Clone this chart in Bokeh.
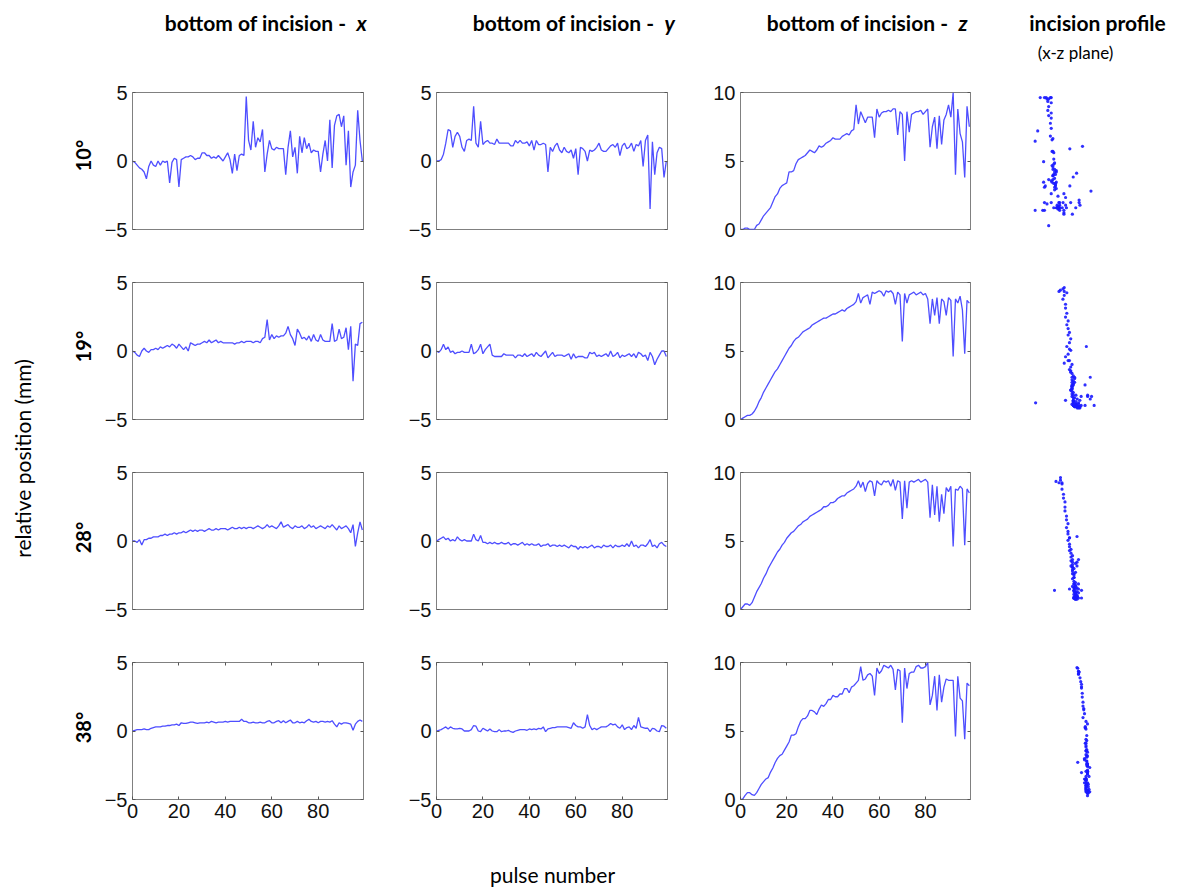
from bokeh.plotting import figure
from bokeh.layouts import row, column
from bokeh.models import Range1d, FixedTicker, LinearAxis
from bokeh.core.properties import value
from bokeh.embed import file_html
from bokeh.resources import INLINE
from math import pi

# ---------------- data ----------------
pulse = list(range(100))
angles = ["10°", "19°", "28°", "38°"]
col_titles = ["bottom of incision - ", "bottom of incision - ", "bottom of incision - "]
col_letters = ["x", "y", "z"]
x_ticks = [0, 20, 40, 60, 80]
xy_ticks = [-5, 0, 5]
z_ticks = [0, 5, 10]

x_10 = [0.0, -0.1, -0.3, -0.5, -0.6, -0.8, -1.3, -0.4, 0.0, -0.3,
        -0.4, 0.0, -0.3, 0.0, -0.1, 0.0, -1.6, -0.1, 0.2, 0.1,
        -1.9, 0.1, 0.2, 0.3, 0.3, 0.4, 0.3, 0.1, 0.2, 0.2,
        0.6, 0.6, 0.4, 0.4, 0.2, 0.3, 0.2, 0.4, 0.2, 0.0,
        0.3, 0.6, 0.1, -0.9, 0.5, -0.7, 0.4, 0.5, 0.4, 4.7,
        1.5, 0.8, 2.9, 1.0, 1.7, 1.4, 2.3, -0.8, 0.5, 1.5,
        0.9, 0.8, 1.0, 0.9, 0.9, 0.9, -1.0, 1.0, 2.2, 0.3,
        1.0, -0.9, 1.8, 0.6, 1.7, 0.9, 1.3, 0.6, 0.8, 0.7,
        0.7, -0.8, 0.5, 1.5, 0.0, 3.0, -0.5, 2.6, 3.3, 3.4,
        2.5, 3.3, -0.3, 2.2, -1.9, -0.8, -0.3, 3.7, 1.5, 0.0]
y_10 = [0.0, 0.0, 0.1, 0.5, 1.3, 2.3, 2.2, 1.0, 1.8, 2.1,
        1.8, 1.0, 0.7, 1.5, 1.6, 1.5, 4.0, 1.3, 1.0, 2.9,
        1.2, 1.4, 1.5, 1.3, 1.3, 1.2, 1.6, 1.3, 1.3, 1.3,
        1.3, 1.3, 1.1, 1.1, 1.5, 1.3, 1.5, 1.3, 1.3, 1.4,
        1.1, 1.5, 0.8, 1.5, 1.2, 1.2, 1.3, 1.2, -0.8, 1.0,
        0.7, 1.1, 1.3, 0.8, 0.6, 1.0, 0.7, 0.6, 0.8, 0.2,
        0.9, -1.0, 1.0, 0.9, 0.7, 0.0, 0.8, 0.7, 0.8, 1.0,
        1.3, 0.8, 0.7, 0.7, 0.9, 1.1, 1.2, 1.0, 1.3, 0.4,
        1.1, 1.3, 0.9, 1.0, 1.3, 0.7, 1.2, 1.1, 1.5, -0.4,
        1.5, 1.9, -3.5, 1.4, -1.0, 0.6, 1.0, 0.9, -1.2, 0.0]
z_10 = [0.0, 0.0, 0.1, 0.1, 0.0, 0.0, 0.0, 0.3, 0.4, 0.7,
        1.0, 1.2, 1.4, 1.6, 2.0, 2.4, 2.6, 3.0, 3.2, 3.3,
        3.4, 4.2, 4.2, 4.3, 4.8, 5.1, 5.2, 5.3, 5.4, 5.6,
        5.8, 5.7, 5.6, 5.8, 6.1, 6.0, 6.1, 6.3, 6.4, 6.5,
        6.7, 6.6, 6.6, 6.6, 6.8, 6.9, 7.0, 6.9, 7.2, 7.3,
        9.1, 7.7, 8.6, 8.2, 7.8, 8.2, 8.2, 8.2, 6.7, 8.8,
        8.2, 8.5, 8.6, 8.6, 8.7, 8.6, 8.8, 8.8, 6.9, 8.6,
        8.4, 5.0, 8.6, 7.1, 8.4, 8.5, 8.6, 8.6, 8.7, 8.4,
        8.6, 8.8, 6.0, 7.5, 8.2, 5.9, 8.3, 6.2, 8.0, 8.4,
        9.1, 8.2, 10.0, 4.0, 8.8, 7.0, 6.4, 3.8, 9.0, 7.5]

x_19 = [0.0, -0.1, -0.3, -0.4, 0.0, 0.2, 0.0, -0.1, 0.1, 0.1,
        0.2, 0.1, 0.3, 0.2, 0.3, 0.4, 0.3, 0.5, 0.4, 0.2,
        0.5, 0.3, 0.1, 0.3, 0.0, 0.6, 0.5, 0.4, 0.5, 0.5,
        0.6, 0.7, 0.6, 0.8, 0.6, 0.7, 0.8, 0.6, 0.7, 0.6,
        0.6, 0.6, 0.6, 0.6, 0.5, 0.6, 0.6, 0.7, 0.6, 0.7,
        0.7, 0.7, 0.6, 0.7, 0.7, 0.6, 0.9, 1.0, 2.3, 0.8,
        1.2, 0.9, 1.1, 1.0, 1.1, 1.1, 1.3, 1.8, 1.2, 0.9,
        0.4, 1.6, 1.3, 0.9, 1.0, 0.8, 1.1, 0.7, 1.2, 0.8,
        0.7, 1.2, 0.8, 0.7, 0.7, 0.7, 2.0, 0.7, 0.8, 1.6,
        0.9, 1.0, 1.7, 0.1, 1.8, -2.2, 0.5, 0.4, 2.0, 2.1]
y_19 = [0.0, -0.1, 0.1, 0.5, 0.1, 0.3, -0.1, 0.0, -0.2, -0.1,
        -0.1, 0.0, -0.1, -0.1, -0.1, 0.5, -0.2, -0.1, 0.1, 0.5,
        -0.2, 0.1, 0.3, 0.5, -0.3, -0.4, -0.4, -0.4, -0.4, -0.2,
        -0.3, -0.3, -0.3, -0.3, -0.5, -0.3, -0.3, -0.4, -0.2, -0.4,
        -0.3, -0.2, -0.4, -0.1, -0.3, -0.4, -0.2, 0.0, -0.5, -0.3,
        -0.1, -0.4, -0.3, -0.3, -0.3, -0.4, -0.3, -0.2, -0.6, -0.2,
        -0.5, -0.4, -0.4, -0.4, -0.5, -0.5, -0.1, -0.2, -0.1, -0.4,
        -0.3, -0.4, -0.3, -0.2, -0.4, 0.0, -0.4, -0.3, -0.1, -0.5,
        -0.3, -0.4, -0.3, -0.2, -0.4, -0.2, -0.5, -0.1, -0.2, -0.4,
        -0.3, -0.7, -0.1, -0.4, -1.0, -0.6, -0.3, 0.0, 0.0, -0.4]
z_19 = [0.0, 0.1, 0.2, 0.3, 0.3, 0.4, 0.6, 0.9, 1.3, 1.6,
        2.0, 2.3, 2.6, 2.9, 3.2, 3.5, 3.7, 4.0, 4.3, 4.6,
        4.9, 5.2, 5.4, 5.7, 5.9, 6.0, 6.2, 6.4, 6.5, 6.6,
        6.7, 6.9, 7.0, 7.1, 7.2, 7.3, 7.4, 7.4, 7.5, 7.6,
        7.7, 7.7, 7.8, 7.9, 8.0, 7.9, 8.1, 8.2, 8.3, 8.4,
        8.6, 9.2, 8.5, 8.9, 9.0, 9.1, 8.4, 9.3, 9.2, 9.3,
        9.4, 9.3, 9.0, 9.4, 9.3, 9.4, 9.2, 8.4, 9.3, 9.1,
        5.7, 9.2, 8.5, 9.1, 9.2, 9.3, 9.1, 9.2, 9.3, 9.1,
        9.2, 8.8, 7.0, 8.8, 7.6, 8.9, 7.0, 8.8, 8.6, 7.6,
        8.9, 8.7, 4.6, 8.8, 8.5, 9.0, 8.0, 4.8, 8.7, 8.5]

x_28 = [0.0, 0.0, -0.1, 0.1, -0.3, 0.1, 0.1, 0.2, 0.2, 0.3,
        0.3, 0.3, 0.4, 0.4, 0.5, 0.4, 0.5, 0.5, 0.6, 0.5,
        0.6, 0.6, 0.7, 0.6, 0.7, 0.8, 0.7, 0.8, 0.7, 0.8,
        0.8, 0.7, 0.8, 0.9, 0.8, 0.8, 0.9, 0.8, 0.9, 0.9,
        0.9, 0.8, 0.9, 1.0, 0.9, 0.9, 1.0, 0.9, 1.0, 0.9,
        1.0, 1.0, 0.9, 1.0, 1.1, 1.0, 0.9, 1.0, 1.2, 1.0,
        1.1, 1.0, 0.9, 1.1, 1.4, 1.0, 1.1, 1.2, 1.0, 0.9,
        1.1, 1.0, 1.0, 1.1, 0.9, 1.0, 1.2, 1.0, 1.1, 0.9,
        1.0, 1.1, 1.0, 0.9, 1.1, 1.0, 1.2, 1.0, 0.8, 1.1,
        0.9, 1.0, 1.1, 0.9, 0.6, 1.2, -0.4, 0.6, 1.4, 0.8]
y_28 = [0.0, 0.1, 0.2, 0.3, 0.1, 0.2, 0.0, 0.1, 0.0, 0.3,
        0.1, 0.0, 0.1, 0.0, 0.0, 0.0, 0.5, 0.1, 0.0, 0.4,
        -0.1, -0.1, -0.2, -0.1, -0.2, -0.1, -0.2, -0.2, -0.1, -0.2,
        -0.2, -0.1, -0.3, -0.2, -0.2, -0.3, -0.2, -0.1, -0.3, -0.2,
        -0.3, -0.2, -0.3, -0.3, -0.2, -0.4, -0.3, -0.3, -0.2, -0.4,
        -0.3, -0.3, -0.4, -0.3, -0.4, -0.3, -0.4, -0.5, -0.3, -0.4,
        -0.4, -0.6, -0.4, -0.5, -0.4, -0.5, -0.4, -0.3, -0.5, -0.4,
        -0.4, -0.5, -0.3, -0.4, -0.4, -0.3, -0.5, -0.3, -0.4, -0.4,
        -0.3, -0.4, -0.2, -0.4, 0.0, -0.4, -0.3, -0.5, -0.3, -0.3,
        -0.4, -0.2, 0.1, -0.4, -0.3, -0.5, -0.2, -0.1, -0.3, -0.4]
z_28 = [0.0, 0.2, 0.4, 0.4, 0.3, 0.5, 0.9, 1.3, 1.6, 1.9,
        2.3, 2.6, 3.0, 3.3, 3.6, 3.9, 4.2, 4.4, 4.7, 4.9,
        5.2, 5.4, 5.6, 5.7, 5.9, 6.1, 6.2, 6.4, 6.5, 6.6,
        6.8, 6.9, 7.0, 7.1, 7.2, 7.3, 7.5, 7.5, 7.6, 7.8,
        7.8, 7.9, 8.1, 8.2, 8.3, 8.3, 8.5, 8.6, 8.7, 8.8,
        9.0, 9.4, 8.9, 9.3, 8.6, 9.2, 9.4, 9.3, 8.3, 9.4,
        9.2, 9.1, 9.4, 9.3, 9.4, 9.0, 9.5, 8.7, 9.4, 9.3,
        6.6, 9.4, 7.4, 9.3, 9.4, 9.3, 9.4, 9.5, 9.3, 9.4,
        9.5, 9.3, 6.7, 9.1, 6.9, 9.0, 6.4, 8.4, 7.0, 8.9,
        8.6, 9.0, 4.6, 8.8, 8.7, 9.0, 8.8, 4.7, 8.8, 8.5]

x_38 = [0.0, 0.05, 0.1, 0.1, 0.1, 0.15, 0.1, 0.1, 0.2, 0.25,
        0.3, 0.3, 0.3, 0.35, 0.35, 0.4, 0.4, 0.45, 0.45, 0.5,
        0.4, 0.6, 0.55, 0.55, 0.6, 0.65, 0.65, 0.6, 0.55, 0.6,
        0.6, 0.6, 0.65, 0.6, 0.7, 0.65, 0.6, 0.65, 0.65, 0.65,
        0.7, 0.65, 0.7, 0.7, 0.7, 0.7, 0.7, 0.85, 0.7, 0.7,
        0.6, 0.6, 0.65, 0.6, 0.6, 0.65, 0.6, 0.6, 0.7, 0.75,
        0.6, 0.6, 0.7, 0.75, 0.6, 0.75, 0.6, 0.7, 0.8, 0.6,
        0.6, 0.7, 0.6, 0.65, 0.6, 0.75, 0.85, 0.7, 0.65, 0.7,
        0.6, 0.7, 0.7, 0.65, 0.7, 0.65, 0.75, 0.5, 0.3, 0.6,
        0.5, 0.6, 0.6, 0.55, 0.5, 0.05, 0.5, 0.7, 0.8, 0.7]
y_38 = [0.0, 0.05, 0.1, 0.2, 0.3, 0.15, 0.3, 0.2, 0.15, 0.15,
        0.2, 0.15, 0.0, 0.0, 0.0, 0.1, 0.4, 0.35, 0.0, -0.05,
        0.2, 0.1, 0.0, 0.15, 0.0, -0.05, -0.05, 0.1, -0.05, 0.0,
        0.0, 0.05, -0.05, -0.1, 0.0, 0.05, 0.1, 0.1, 0.1, 0.05,
        0.15, 0.1, 0.15, 0.1, 0.2, 0.15, 0.3, -0.05, 0.15, 0.2,
        0.25, 0.25, 0.3, 0.3, 0.3, 0.3, 0.3, 0.25, 0.2, 0.6,
        0.4, 0.3, 0.3, 0.2, 0.3, 1.2, 0.4, 0.1, 0.2, 0.1,
        0.2, 0.3, 0.3, 0.3, 0.4, 0.55, 0.45, 0.5, 0.3, 0.2,
        0.45, 0.1, 0.25, 0.3, 0.1, 0.4, 0.2, 1.0, 0.3, 0.25,
        0.2, 0.2, -0.05, 0.2, 0.15, 0.0, -0.05, 0.4, 0.35, 0.2]
z_38 = [0.0, 0.05, 0.3, 0.5, 0.5, 0.35, 0.3, 0.5, 0.8, 1.1,
        1.3, 1.5, 1.6, 2.0, 2.3, 2.7, 3.0, 3.2, 3.3, 3.6,
        3.9, 4.2, 4.7, 4.7, 4.8, 5.3, 5.7, 5.9, 5.9, 6.1,
        6.5, 6.5, 6.4, 6.2, 6.6, 6.9, 6.8, 7.0, 7.3, 7.3,
        7.6, 7.5, 7.5, 7.7, 7.7, 8.1, 8.1, 7.8, 8.2, 8.3,
        8.5, 8.7, 9.7, 8.7, 8.8, 9.1, 9.2, 9.0, 7.6, 9.6,
        9.2, 9.4, 9.8, 9.7, 9.6, 9.8, 9.5, 8.0, 9.5, 9.4,
        5.6, 9.6, 8.1, 9.2, 9.3, 9.3, 9.7, 9.8, 9.6, 9.6,
        9.7, 10.0, 6.9, 7.6, 9.0, 6.5, 9.1, 7.1, 8.2, 8.8,
        8.7, 8.7, 8.7, 4.6, 9.0, 7.4, 7.2, 4.4, 8.5, 8.3]

series = [
    (x_10, y_10, z_10),
    (x_19, y_19, z_19),
    (x_28, y_28, z_28),
    (x_38, y_38, z_38),
]

# ---------------- style ----------------
LINE = "#3b3bff"
DOT = "#1a1aff"
FRAME = "#808080"
TICK = "#555555"
TFONT = "Liberation Sans"
LFONT = "Lato"

# per-row horizontal window of the profile panels (x in mm)
profile_xwin = [(-6.0, 16.0), (-4.9, 9.4), (-4.0, 8.4), (-5.1, 7.3)]


def cell(xs, ys, yr, yticks, col, last):
    right = 41 if col < 2 else 30
    w = 304 if col < 2 else 292
    p = figure(width=w, height=190, x_range=Range1d(0, 99.5), y_range=Range1d(*yr),
               output_backend="svg", toolbar_location=None,
               min_border_left=32, min_border_right=right,
               min_border_top=17, min_border_bottom=36)
    p.grid.visible = False
    p.outline_line_color = FRAME
    p.outline_line_width = 1
    p.background_fill_color = "white"
    p.border_fill_color = "white"
    ya = p.yaxis[0]
    ya.ticker = FixedTicker(ticks=yticks)
    ya.major_tick_in = 3
    ya.major_tick_out = 0
    ya.minor_tick_line_color = None
    ya.axis_line_color = None
    ya.major_tick_line_color = TICK
    ya.major_label_text_font = TFONT
    ya.major_label_text_font_size = "20px"
    ya.major_label_text_color = "#111111"
    ya.major_label_standoff = 5
    ra = LinearAxis(ticker=FixedTicker(ticks=yticks), major_tick_in=3, major_tick_out=0,
                    minor_tick_line_color=None, axis_line_color=None,
                    major_tick_line_color=TICK, major_label_text_font_size="0px",
                    major_label_standoff=0)
    p.add_layout(ra, "right")
    xa = p.xaxis[0]
    if last:
        xa.ticker = FixedTicker(ticks=x_ticks)
        xa.major_tick_in = 3
        xa.major_tick_out = 0
        xa.minor_tick_line_color = None
        xa.axis_line_color = None
        xa.major_tick_line_color = TICK
        xa.major_label_text_font = TFONT
        xa.major_label_text_font_size = "20px"
        xa.major_label_text_color = "#111111"
        xa.major_label_standoff = 4
        ta = LinearAxis(ticker=FixedTicker(ticks=x_ticks), major_tick_in=3, major_tick_out=0,
                        minor_tick_line_color=None, axis_line_color=None,
                        major_tick_line_color=TICK, major_label_text_font_size="0px",
                        major_label_standoff=0)
        p.add_layout(ta, "above")
    else:
        xa.visible = False
    p.line(xs, ys, line_color=LINE, line_width=1.3, line_alpha=0.9)
    return p


def profile(xs, zs, xwin):
    # frame is aligned with the neighbouring panels (borders 17 / 36)
    p = figure(width=186, height=190, x_range=Range1d(*xwin), y_range=Range1d(10.3, -0.4),
               output_backend="svg", toolbar_location=None,
               min_border_left=0, min_border_right=0, min_border_top=17, min_border_bottom=36)
    p.axis.visible = False
    p.grid.visible = False
    p.outline_line_color = None
    p.scatter(xs, zs, size=3.2, color=DOT, line_color=None, alpha=0.9)
    return p


def blank(w, h, x0, x1, y0, y1):
    p = figure(width=w, height=h, x_range=Range1d(x0, x1), y_range=Range1d(y1, y0),
               output_backend="svg", toolbar_location=None, min_border=0)
    p.axis.visible = False
    p.grid.visible = False
    p.outline_line_color = None
    return p


rows = []
for r, (xs, ys, zs) in enumerate(series):
    last = r == len(series) - 1
    rows.append(row(
        cell(pulse, xs, (-5, 5), xy_ticks, 0, last),
        cell(pulse, ys, (-5, 5), xy_ticks, 1, last),
        cell(pulse, zs, (0, 10), z_ticks, 2, last),
        profile(xs, zs, profile_xwin[r]),
    ))

# header (page coordinates x 100..1186, y 0..75)
header = blank(1086, 75, 100, 1186, 0, 75)
letter_x = [356, 664, 958]
header.text(x=[lx - 5 for lx in letter_x], y=[22] * 3, text=col_titles,
            text_font=value(LFONT), text_font_style="bold", text_font_size="21px",
            text_align="right", text_baseline="middle", text_color="black")
header.text(x=letter_x, y=[22] * 3, text=col_letters,
            text_font=value(LFONT), text_font_style="bold italic", text_font_size="21px",
            text_align="left", text_baseline="middle", text_color="black")
header.text(x=[1097], y=[22], text=["incision profile"],
            text_font=value(LFONT), text_font_style="bold", text_font_size="21px",
            text_align="center", text_baseline="middle", text_color="black")
header.text(x=[1075], y=[52], text=["(x-z plane)"],
            text_font=value(LFONT), text_font_size="17px",
            text_align="center", text_baseline="middle", text_color="black")

# left strip (page coordinates x 0..100, y 0..888)
left = blank(100, 888, 0, 100, 0, 888)
left.text(x=[22], y=[458], text=["relative position (mm)"], angle=pi / 2,
          text_font=value(LFONT), text_font_size="21px",
          text_align="center", text_baseline="middle", text_color="black")
left.text(x=[82] * 4, y=[155, 346, 537, 727], text=angles, angle=pi / 2,
          text_font=value(LFONT), text_font_style="bold", text_font_size="20px",
          text_align="center", text_baseline="middle", text_color="black")

# footer (page coordinates x 100..1186, y 835..888)
footer = blank(1086, 53, 100, 1186, 835, 888)
footer.text(x=[552], y=[874], text=["pulse number"],
            text_font=value(LFONT), text_font_size="21px",
            text_align="center", text_baseline="middle", text_color="black")

layout = row(left, column(header, *rows, footer))

open("out.html", "w").write(file_html(layout, INLINE))
